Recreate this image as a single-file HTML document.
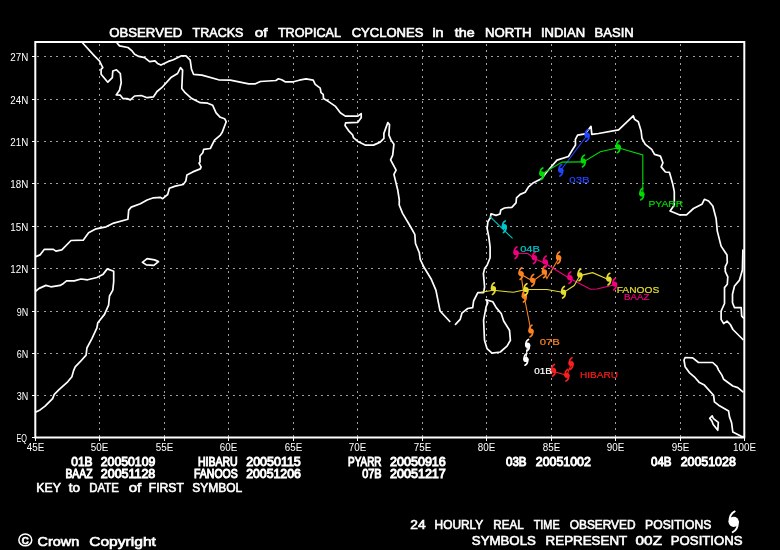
<!DOCTYPE html>
<html lang="en"><head><meta charset="utf-8"><title>Observed tracks of tropical cyclones in the North Indian Basin</title>
<style>
html,body{margin:0;padding:0;background:#000;}
body{width:780px;height:550px;overflow:hidden;}
svg{display:block;}
text{font-family:"Liberation Sans",Arial,sans-serif;fill:#fff;}
.b{stroke:#fff;stroke-width:0.6;}
.bb{stroke:#fff;stroke-width:0.95;}
.coast{fill:none;stroke:#fff;stroke-width:1.7;stroke-linejoin:round;stroke-linecap:round;}
.grid{stroke:#a0a0a0;stroke-width:1;stroke-dasharray:2 4.3;fill:none;}
.trk{fill:none;stroke-width:1.1;}
</style></head><body>
<svg width="780" height="550" viewBox="0 0 780 550">
<rect width="780" height="550" fill="#000"/>
<g class="grid" shape-rendering="crispEdges">
<line x1="99.5" y1="44.0" x2="99.5" y2="436.5"/>
<line x1="164.5" y1="44.0" x2="164.5" y2="436.5"/>
<line x1="228.5" y1="44.0" x2="228.5" y2="436.5"/>
<line x1="293.5" y1="44.0" x2="293.5" y2="436.5"/>
<line x1="357.5" y1="44.0" x2="357.5" y2="436.5"/>
<line x1="422.5" y1="44.0" x2="422.5" y2="436.5"/>
<line x1="486.5" y1="44.0" x2="486.5" y2="436.5"/>
<line x1="551.5" y1="44.0" x2="551.5" y2="436.5"/>
<line x1="615.5" y1="44.0" x2="615.5" y2="436.5"/>
<line x1="680.5" y1="44.0" x2="680.5" y2="436.5"/>
<line x1="37.3" y1="395.5" x2="743.3" y2="395.5"/>
<line x1="37.3" y1="353.5" x2="743.3" y2="353.5"/>
<line x1="37.3" y1="311.5" x2="743.3" y2="311.5"/>
<line x1="37.3" y1="268.5" x2="743.3" y2="268.5"/>
<line x1="37.3" y1="226.5" x2="743.3" y2="226.5"/>
<line x1="37.3" y1="183.5" x2="743.3" y2="183.5"/>
<line x1="37.3" y1="141.5" x2="743.3" y2="141.5"/>
<line x1="37.3" y1="99.5" x2="743.3" y2="99.5"/>
<line x1="37.3" y1="56.5" x2="743.3" y2="56.5"/>
</g>
<g class="coast">
<polyline points="82.7,43.0 94.4,55.9 99.4,60.9 102.8,67.6 101.1,69.3 101.1,74.3 107.8,82.2 112.3,77.6 112.8,71.0 116.5,69.8 120.3,73.5 121.2,82.7 119.5,90.2 116.2,94.9 120.3,95.2 122.9,98.6 127.0,98.6 130.4,99.9 134.6,96.0 141.3,95.5 147.1,97.7 153.5,96.8 157.0,91.5 161.7,87.7 170.9,77.6 177.6,73.5 180.5,67.6 182.6,70.1 181.8,88.5 185.1,92.7 191.8,98.6 200.2,102.7 207.7,103.2 212.7,105.3 216.1,112.8 220.3,117.3 224.6,118.7 226.2,121.7 222.1,132.6 220.4,135.1 214.5,140.1 210.3,148.5 203.7,149.3 202.8,152.7 200.0,156.0 200.0,161.9 199.0,163.2 201.1,166.9 200.3,168.9 192.8,171.9 186.9,174.9 185.8,181.1 183.2,184.5 175.2,186.1 169.4,188.3 167.7,194.5 162.7,198.7 160.2,197.3 153.5,197.8 147.1,200.0 140.4,203.7 131.2,207.1 128.7,210.1 127.9,219.3 113.7,223.1 106.1,226.8 96.1,228.8 88.6,232.7 83.2,240.2 71.0,240.5 61.8,249.9 55.9,251.1 53.4,249.4 44.2,249.4 40.0,254.9 35.9,256.6"/>
<polyline points="117.0,43.0 119.5,45.9 127.9,47.5 132.1,50.9 134.6,54.2 138.8,56.4 144.6,57.6 149.6,61.7 155.0,60.9 157.5,63.4 160.9,65.1 168.4,61.4 173.4,59.7 181.0,55.9 186.0,55.9 190.2,60.1 191.5,69.3 193.5,74.3 201.9,75.1 218.6,79.8 230.3,80.2 248.7,83.8 255.4,83.8 260.4,81.5 275.9,80.5 278.4,78.8 281.7,79.8 285.1,81.8 293.4,81.8 299.3,80.2 306.0,78.8 313.2,80.2 315.2,84.3 320.2,88.2 321.0,92.7 323.2,94.4 323.5,98.6 328.6,101.6 335.2,106.1 340.3,112.8 345.3,116.1 357.8,116.1 361.2,113.6 361.2,117.8 357.8,122.3 345.6,122.9 345.0,125.6 348.5,130.6 352.6,134.8 353.4,137.6 358.4,141.8 365.1,145.1 373.5,145.1 380.2,142.1 383.9,138.4 383.9,133.4 387.8,122.6 389.5,124.6 388.9,135.1 391.1,140.1 393.9,144.3 392.7,155.2 390.6,159.9 396.1,170.2 393.9,174.4 397.8,190.3 399.3,200.0 399.2,205.0 402.6,213.4 410.1,226.0 414.8,234.3 415.5,243.5 419.3,252.7 420.2,259.4 424.3,267.8 431.0,278.7 435.9,290.1 438.4,302.6 440.1,311.0 449.8,321.5"/>
<polyline points="455.5,324.4 460.2,319.4 461.9,313.2 467.7,308.5 472.7,307.6 473.6,301.0 477.8,292.6 483.6,292.6 484.6,287.0 483.4,273.6 484.6,268.6 487.1,265.3 490.1,257.7 490.1,246.9 488.8,236.8 487.1,228.5 487.9,221.8 490.4,217.6 491.0,213.8 496.0,215.4 500.0,214.0 500.8,210.0 504.5,208.0 511.8,207.3 516.0,202.8 516.5,197.8 520.2,194.4 525.2,192.2 528.5,186.9 533.5,182.7 541.9,178.5 546.1,172.7 551.9,166.0 557.0,160.1 568.4,156.5 571.7,151.0 575.5,145.0 575.4,139.3 577.6,135.2 585.1,133.8 589.3,128.5 591.0,126.3 591.8,134.3 598.5,133.5 618.6,129.8 633.3,115.9 634.5,119.3 638.3,121.8 641.1,131.0 642.0,138.5 645.3,144.4 651.7,149.4 654.5,154.4 660.4,156.1 662.9,162.8 661.2,166.9 665.4,172.0 669.5,172.4 672.6,183.4 674.3,191.7 674.3,205.1 670.1,211.0 679.3,214.8 686.5,214.8 693.5,208.5 701.9,204.3 704.4,199.3 708.6,201.0 712.8,206.0 716.1,218.5 717.3,231.1 721.1,246.1 725.0,252.0 727.0,255.0 727.3,262.5 725.3,266.7 725.3,271.7 727.8,276.8 727.3,284.3 724.5,287.6 724.5,303.5 721.1,311.1 721.1,319.4 723.7,323.6 727.0,321.1 730.3,324.5 732.9,329.5 737.9,334.5 742.9,339.5"/>
<polyline points="742.9,250.0 742.4,270.0 739.5,280.1 734.5,286.0 732.5,294.3 732.5,302.7 734.5,307.7 741.2,307.7 741.7,316.1 743.4,317.8"/>
<polyline points="486.1,299.8 492.8,301.8 496.2,307.6 501.2,313.5 503.7,321.0 509.5,330.2 510.4,340.3 507.0,346.1 500.3,352.0 492.0,353.2 487.0,348.6 484.5,340.3 483.6,320.2 486.1,306.8 487.8,302.6 486.1,299.8"/>
<polyline points="742.9,391.8 737.8,387.6 732.8,386.0 723.6,379.3 721.9,375.1 718.6,370.1 716.9,366.4 712.7,362.5 698.5,362.5 692.7,357.9 685.1,357.5 684.0,360.0 685.1,366.7 689.3,372.6 694.3,376.8 699.4,382.6 704.4,385.1 713.6,395.2 714.4,401.9 718.6,405.2 728.6,411.1 729.5,416.9 731.6,422.8 732.8,432.0 741.2,436.2 744.0,437.0"/>
<polyline points="709.7,418.3 712.2,415.8 713.2,418.3 718.3,422.3 717.8,430.3 713.2,424.5 711.9,421.1 709.7,418.3"/>
<polyline points="142.4,262.3 147.1,258.6 154.6,259.9 158.5,261.6 153.8,265.3 146.3,264.9 142.4,262.3"/>
<polyline points="35.9,291.0 39.2,288.4 45.9,285.4 50.9,286.8 60.1,285.4 63.5,283.4 66.5,280.9 74.3,280.9 81.0,279.0 87.7,279.8 96.9,277.5 102.8,274.6 107.3,268.9 113.7,271.3 113.7,281.7 112.8,290.1 109.5,296.0 108.6,305.2 104.5,314.4 97.8,322.7 96.9,327.8 91.9,338.6 86.9,348.0 86.1,355.1 80.2,361.7 75.2,366.8 73.5,370.9 71.9,376.8 67.7,381.8 59.3,389.4 54.3,394.4 52.6,398.6 45.1,406.1 40.1,409.9 35.9,411.9"/>
</g>
<rect x="35.3" y="42.0" width="709.0" height="395.5" fill="none" stroke="#fff" stroke-width="2"/>
<g stroke="#fff" stroke-width="1" shape-rendering="crispEdges">
<line x1="32" y1="437.5" x2="35.3" y2="437.5"/>
<line x1="32" y1="395.5" x2="35.3" y2="395.5"/>
<line x1="32" y1="353.5" x2="35.3" y2="353.5"/>
<line x1="32" y1="311.5" x2="35.3" y2="311.5"/>
<line x1="32" y1="268.5" x2="35.3" y2="268.5"/>
<line x1="32" y1="226.5" x2="35.3" y2="226.5"/>
<line x1="32" y1="183.5" x2="35.3" y2="183.5"/>
<line x1="32" y1="141.5" x2="35.3" y2="141.5"/>
<line x1="32" y1="99.5" x2="35.3" y2="99.5"/>
<line x1="32" y1="56.5" x2="35.3" y2="56.5"/>
<line x1="35.5" y1="437.5" x2="35.5" y2="441.0"/>
<line x1="99.5" y1="437.5" x2="99.5" y2="441.0"/>
<line x1="164.5" y1="437.5" x2="164.5" y2="441.0"/>
<line x1="228.5" y1="437.5" x2="228.5" y2="441.0"/>
<line x1="293.5" y1="437.5" x2="293.5" y2="441.0"/>
<line x1="357.5" y1="437.5" x2="357.5" y2="441.0"/>
<line x1="422.5" y1="437.5" x2="422.5" y2="441.0"/>
<line x1="486.5" y1="437.5" x2="486.5" y2="441.0"/>
<line x1="551.5" y1="437.5" x2="551.5" y2="441.0"/>
<line x1="615.5" y1="437.5" x2="615.5" y2="441.0"/>
<line x1="680.5" y1="437.5" x2="680.5" y2="441.0"/>
<line x1="744.5" y1="437.5" x2="744.5" y2="441.0"/>
</g>
<polyline class="trk" stroke="#2244ff" points="587.0,135.5 561.0,170.0"/>
<circle cx="587.20" cy="135.20" r="2.60" fill="#2244ff"/><path d="M585.35,135.20 C585.35,132.40 585.60,130.60 588.10,129.40 M589.05,135.20 C589.05,138.00 588.80,139.80 586.30,141.00" fill="none" stroke="#2244ff" stroke-width="1.7" stroke-linecap="round"/>
<circle cx="560.80" cy="170.30" r="2.60" fill="#2244ff"/><path d="M558.95,170.30 C558.95,167.50 559.20,165.70 561.70,164.50 M562.65,170.30 C562.65,173.10 562.40,174.90 559.90,176.10" fill="none" stroke="#2244ff" stroke-width="1.7" stroke-linecap="round"/>
<polyline class="trk" stroke="#00dc00" points="541.9,174.0 562.0,162.1 583.4,161.9 600.3,151.7 618.2,147.7 642.8,154.9 642.8,192.0"/>
<circle cx="541.90" cy="173.80" r="2.60" fill="#00dc00"/><path d="M540.05,173.80 C540.05,171.00 540.30,169.20 542.80,168.00 M543.75,173.80 C543.75,176.60 543.50,178.40 541.00,179.60" fill="none" stroke="#00dc00" stroke-width="1.7" stroke-linecap="round"/>
<circle cx="583.40" cy="161.00" r="2.60" fill="#00dc00"/><path d="M581.55,161.00 C581.55,158.20 581.80,156.40 584.30,155.20 M585.25,161.00 C585.25,163.80 585.00,165.60 582.50,166.80" fill="none" stroke="#00dc00" stroke-width="1.7" stroke-linecap="round"/>
<circle cx="618.20" cy="146.90" r="2.60" fill="#00dc00"/><path d="M616.35,146.90 C616.35,144.10 616.60,142.30 619.10,141.10 M620.05,146.90 C620.05,149.70 619.80,151.50 617.30,152.70" fill="none" stroke="#00dc00" stroke-width="1.7" stroke-linecap="round"/>
<circle cx="641.80" cy="194.00" r="2.60" fill="#00dc00"/><path d="M639.95,194.00 C639.95,191.20 640.20,189.40 642.70,188.20 M643.65,194.00 C643.65,196.80 643.40,198.60 640.90,199.80" fill="none" stroke="#00dc00" stroke-width="1.7" stroke-linecap="round"/>
<polyline class="trk" stroke="#00c8c8" points="490.0,216.7 512.6,238.4"/>
<circle cx="504.30" cy="226.70" r="2.60" fill="#00c8c8"/><path d="M502.45,226.70 C502.45,223.90 502.70,222.10 505.20,220.90 M506.15,226.70 C506.15,229.50 505.90,231.30 503.40,232.50" fill="none" stroke="#00c8c8" stroke-width="1.7" stroke-linecap="round"/>
<polyline class="trk" stroke="#fa8220" points="558.6,258.5 546.9,278.6 544.4,272.7 532.7,281.1 521.0,274.4 524.3,297.0 531.0,331.0"/>
<circle cx="558.60" cy="257.70" r="2.60" fill="#fa8220"/><path d="M556.75,257.70 C556.75,254.90 557.00,253.10 559.50,251.90 M560.45,257.70 C560.45,260.50 560.20,262.30 557.70,263.50" fill="none" stroke="#fa8220" stroke-width="1.7" stroke-linecap="round"/>
<circle cx="544.40" cy="271.90" r="2.60" fill="#fa8220"/><path d="M542.55,271.90 C542.55,269.10 542.80,267.30 545.30,266.10 M546.25,271.90 C546.25,274.70 546.00,276.50 543.50,277.70" fill="none" stroke="#fa8220" stroke-width="1.7" stroke-linecap="round"/>
<circle cx="532.70" cy="280.30" r="2.60" fill="#fa8220"/><path d="M530.85,280.30 C530.85,277.50 531.10,275.70 533.60,274.50 M534.55,280.30 C534.55,283.10 534.30,284.90 531.80,286.10" fill="none" stroke="#fa8220" stroke-width="1.7" stroke-linecap="round"/>
<circle cx="521.00" cy="273.60" r="2.60" fill="#fa8220"/><path d="M519.15,273.60 C519.15,270.80 519.40,269.00 521.90,267.80 M522.85,273.60 C522.85,276.40 522.60,278.20 520.10,279.40" fill="none" stroke="#fa8220" stroke-width="1.7" stroke-linecap="round"/>
<circle cx="524.30" cy="296.20" r="2.60" fill="#fa8220"/><path d="M522.45,296.20 C522.45,293.40 522.70,291.60 525.20,290.40 M526.15,296.20 C526.15,299.00 525.90,300.80 523.40,302.00" fill="none" stroke="#fa8220" stroke-width="1.7" stroke-linecap="round"/>
<circle cx="531.00" cy="331.00" r="2.60" fill="#fa8220"/><path d="M529.15,331.00 C529.15,328.20 529.40,326.40 531.90,325.20 M532.85,331.00 C532.85,333.80 532.60,335.60 530.10,336.80" fill="none" stroke="#fa8220" stroke-width="1.7" stroke-linecap="round"/>
<polyline class="trk" stroke="#f0007e" points="516.0,253.2 527.7,253.5 534.4,258.5 545.3,263.5 569.9,278.4 590.5,289.3 596.9,289.0 614.6,284.8"/>
<circle cx="516.00" cy="252.70" r="2.60" fill="#f0007e"/><path d="M514.15,252.70 C514.15,249.90 514.40,248.10 516.90,246.90 M517.85,252.70 C517.85,255.50 517.60,257.30 515.10,258.50" fill="none" stroke="#f0007e" stroke-width="1.7" stroke-linecap="round"/>
<circle cx="534.40" cy="257.70" r="2.60" fill="#f0007e"/><path d="M532.55,257.70 C532.55,254.90 532.80,253.10 535.30,251.90 M536.25,257.70 C536.25,260.50 536.00,262.30 533.50,263.50" fill="none" stroke="#f0007e" stroke-width="1.7" stroke-linecap="round"/>
<circle cx="545.30" cy="261.90" r="2.60" fill="#f0007e"/><path d="M543.45,261.90 C543.45,259.10 543.70,257.30 546.20,256.10 M547.15,261.90 C547.15,264.70 546.90,266.50 544.40,267.70" fill="none" stroke="#f0007e" stroke-width="1.7" stroke-linecap="round"/>
<circle cx="569.90" cy="277.70" r="2.60" fill="#f0007e"/><path d="M568.05,277.70 C568.05,274.90 568.30,273.10 570.80,271.90 M571.75,277.70 C571.75,280.50 571.50,282.30 569.00,283.50" fill="none" stroke="#f0007e" stroke-width="1.7" stroke-linecap="round"/>
<circle cx="614.60" cy="284.10" r="2.60" fill="#f0007e"/><path d="M612.75,284.10 C612.75,281.30 613.00,279.50 615.50,278.30 M616.45,284.10 C616.45,286.90 616.20,288.70 613.70,289.90" fill="none" stroke="#f0007e" stroke-width="1.7" stroke-linecap="round"/>
<polyline class="trk" stroke="#e6dc32" points="608.9,279.8 592.6,272.7 579.9,275.6 574.2,285.5 563.7,292.5 546.9,289.5 526.0,289.5 513.5,292.3 493.4,290.3 481.0,292.3"/>
<circle cx="608.90" cy="279.10" r="2.60" fill="#e6dc32"/><path d="M607.05,279.10 C607.05,276.30 607.30,274.50 609.80,273.30 M610.75,279.10 C610.75,281.90 610.50,283.70 608.00,284.90" fill="none" stroke="#e6dc32" stroke-width="1.7" stroke-linecap="round"/>
<circle cx="579.90" cy="274.90" r="2.60" fill="#e6dc32"/><path d="M578.05,274.90 C578.05,272.10 578.30,270.30 580.80,269.10 M581.75,274.90 C581.75,277.70 581.50,279.50 579.00,280.70" fill="none" stroke="#e6dc32" stroke-width="1.7" stroke-linecap="round"/>
<circle cx="563.50" cy="292.20" r="2.60" fill="#e6dc32"/><path d="M561.65,292.20 C561.65,289.40 561.90,287.60 564.40,286.40 M565.35,292.20 C565.35,295.00 565.10,296.80 562.60,298.00" fill="none" stroke="#e6dc32" stroke-width="1.7" stroke-linecap="round"/>
<circle cx="526.00" cy="289.50" r="2.60" fill="#e6dc32"/><path d="M524.15,289.50 C524.15,286.70 524.40,284.90 526.90,283.70 M527.85,289.50 C527.85,292.30 527.60,294.10 525.10,295.30" fill="none" stroke="#e6dc32" stroke-width="1.7" stroke-linecap="round"/>
<circle cx="493.40" cy="288.60" r="2.60" fill="#e6dc32"/><path d="M491.55,288.60 C491.55,285.80 491.80,284.00 494.30,282.80 M495.25,288.60 C495.25,291.40 495.00,293.20 492.50,294.40" fill="none" stroke="#e6dc32" stroke-width="1.7" stroke-linecap="round"/>
<polyline class="trk" stroke="#ffffff" points="527.6,345.2 525.9,359.4"/>
<circle cx="527.60" cy="345.20" r="2.60" fill="#ffffff"/><path d="M525.75,345.20 C525.75,342.40 526.00,340.60 528.50,339.40 M529.45,345.20 C529.45,348.00 529.20,349.80 526.70,351.00" fill="none" stroke="#ffffff" stroke-width="1.7" stroke-linecap="round"/>
<circle cx="525.90" cy="359.40" r="2.60" fill="#ffffff"/><path d="M524.05,359.40 C524.05,356.60 524.30,354.80 526.80,353.60 M527.75,359.40 C527.75,362.20 527.50,364.00 525.00,365.20" fill="none" stroke="#ffffff" stroke-width="1.7" stroke-linecap="round"/>
<polyline class="trk" stroke="#fa1e1e" points="553.5,371.5 566.9,375.3 571.1,364.5"/>
<circle cx="553.50" cy="370.30" r="2.60" fill="#fa1e1e"/><path d="M551.65,370.30 C551.65,367.50 551.90,365.70 554.40,364.50 M555.35,370.30 C555.35,373.10 555.10,374.90 552.60,376.10" fill="none" stroke="#fa1e1e" stroke-width="1.7" stroke-linecap="round"/>
<circle cx="566.90" cy="375.30" r="2.60" fill="#fa1e1e"/><path d="M565.05,375.30 C565.05,372.50 565.30,370.70 567.80,369.50 M568.75,375.30 C568.75,378.10 568.50,379.90 566.00,381.10" fill="none" stroke="#fa1e1e" stroke-width="1.7" stroke-linecap="round"/>
<circle cx="571.10" cy="363.60" r="2.60" fill="#fa1e1e"/><path d="M569.25,363.60 C569.25,360.80 569.50,359.00 572.00,357.80 M572.95,363.60 C572.95,366.40 572.70,368.20 570.20,369.40" fill="none" stroke="#fa1e1e" stroke-width="1.7" stroke-linecap="round"/>
<text x="569.3" y="183.0" font-size="9.2" textLength="20.4" lengthAdjust="spacingAndGlyphs" style="fill:#2244ff;stroke:#2244ff;stroke-width:0.2">03B</text>
<text x="648.4" y="206.6" font-size="9.2" textLength="34.8" lengthAdjust="spacingAndGlyphs" style="fill:#00dc00;stroke:#00dc00;stroke-width:0.2">PYARR</text>
<text x="520.2" y="251.6" font-size="9.2" textLength="19.7" lengthAdjust="spacingAndGlyphs" style="fill:#00c8c8;stroke:#00c8c8;stroke-width:0.2">04B</text>
<text x="616.7" y="293.0" font-size="9.2" textLength="42.6" lengthAdjust="spacingAndGlyphs" style="fill:#e6dc32;stroke:#e6dc32;stroke-width:0.2">FANOOS</text>
<text x="624.1" y="299.6" font-size="9.2" textLength="25.3" lengthAdjust="spacingAndGlyphs" style="fill:#f0007e;stroke:#f0007e;stroke-width:0.2">BAAZ</text>
<text x="539.8" y="345.2" font-size="9.2" textLength="20.1" lengthAdjust="spacingAndGlyphs" style="fill:#fa8220;stroke:#fa8220;stroke-width:0.2">07B</text>
<text x="534.3" y="373.6" font-size="9.2" textLength="17.6" lengthAdjust="spacingAndGlyphs" style="fill:#ffffff;stroke:#ffffff;stroke-width:0.2">01B</text>
<text x="580.0" y="377.8" font-size="9.2" textLength="38.0" lengthAdjust="spacingAndGlyphs" style="fill:#fa1e1e;stroke:#fa1e1e;stroke-width:0.2">HIBARU</text>
<text x="16.5" y="441.7" font-size="11" textLength="10.5" lengthAdjust="spacingAndGlyphs">EQ</text>
<text x="16.8" y="399.7" font-size="11" textLength="11.5" lengthAdjust="spacingAndGlyphs">3N</text>
<text x="16.8" y="357.7" font-size="11" textLength="11.5" lengthAdjust="spacingAndGlyphs">6N</text>
<text x="16.8" y="315.7" font-size="11" textLength="11.5" lengthAdjust="spacingAndGlyphs">9N</text>
<text x="10.3" y="272.7" font-size="11" textLength="18.0" lengthAdjust="spacingAndGlyphs">12N</text>
<text x="10.3" y="230.7" font-size="11" textLength="18.0" lengthAdjust="spacingAndGlyphs">15N</text>
<text x="10.3" y="187.7" font-size="11" textLength="18.0" lengthAdjust="spacingAndGlyphs">18N</text>
<text x="10.3" y="145.7" font-size="11" textLength="18.0" lengthAdjust="spacingAndGlyphs">21N</text>
<text x="10.3" y="103.7" font-size="11" textLength="18.0" lengthAdjust="spacingAndGlyphs">24N</text>
<text x="10.3" y="60.7" font-size="11" textLength="18.0" lengthAdjust="spacingAndGlyphs">27N</text>
<text x="26.8" y="451.2" font-size="10" textLength="17.5" lengthAdjust="spacingAndGlyphs">45E</text>
<text x="90.8" y="451.2" font-size="10" textLength="17.5" lengthAdjust="spacingAndGlyphs">50E</text>
<text x="155.8" y="451.2" font-size="10" textLength="17.5" lengthAdjust="spacingAndGlyphs">55E</text>
<text x="219.8" y="451.2" font-size="10" textLength="17.5" lengthAdjust="spacingAndGlyphs">60E</text>
<text x="284.8" y="451.2" font-size="10" textLength="17.5" lengthAdjust="spacingAndGlyphs">65E</text>
<text x="348.8" y="451.2" font-size="10" textLength="17.5" lengthAdjust="spacingAndGlyphs">70E</text>
<text x="413.8" y="451.2" font-size="10" textLength="17.5" lengthAdjust="spacingAndGlyphs">75E</text>
<text x="477.8" y="451.2" font-size="10" textLength="17.5" lengthAdjust="spacingAndGlyphs">80E</text>
<text x="542.8" y="451.2" font-size="10" textLength="17.5" lengthAdjust="spacingAndGlyphs">85E</text>
<text x="606.8" y="451.2" font-size="10" textLength="17.5" lengthAdjust="spacingAndGlyphs">90E</text>
<text x="671.8" y="451.2" font-size="10" textLength="17.5" lengthAdjust="spacingAndGlyphs">95E</text>
<text x="733.0" y="451.2" font-size="10" textLength="23.0" lengthAdjust="spacingAndGlyphs">100E</text>
<text x="109.3" y="36.9" font-size="12.4" textLength="72.9" lengthAdjust="spacingAndGlyphs" class="b">OBSERVED</text>
<text x="192.5" y="36.9" font-size="12.4" textLength="51.0" lengthAdjust="spacingAndGlyphs" class="b">TRACKS</text>
<text x="254.7" y="36.9" font-size="12.4" textLength="12.8" lengthAdjust="spacingAndGlyphs" class="b">of</text>
<text x="277.9" y="36.9" font-size="12.4" textLength="63.0" lengthAdjust="spacingAndGlyphs" class="b">TROPICAL</text>
<text x="351.7" y="36.9" font-size="12.4" textLength="71.7" lengthAdjust="spacingAndGlyphs" class="b">CYCLONES</text>
<text x="432.4" y="36.9" font-size="12.4" textLength="11.2" lengthAdjust="spacingAndGlyphs" class="b">in</text>
<text x="454.8" y="36.9" font-size="12.4" textLength="19.8" lengthAdjust="spacingAndGlyphs" class="b">the</text>
<text x="484.9" y="36.9" font-size="12.4" textLength="46.6" lengthAdjust="spacingAndGlyphs" class="b">NORTH</text>
<text x="540.9" y="36.9" font-size="12.4" textLength="44.2" lengthAdjust="spacingAndGlyphs" class="b">INDIAN</text>
<text x="594.6" y="36.9" font-size="12.4" textLength="39.2" lengthAdjust="spacingAndGlyphs" class="b">BASIN</text>
<text x="71.3" y="466.2" font-size="12" textLength="21.2" lengthAdjust="spacingAndGlyphs" class="bb">01B</text>
<text x="100.8" y="466.2" font-size="12" textLength="54.5" lengthAdjust="spacingAndGlyphs" class="bb">20050109</text>
<text x="65.4" y="478.2" font-size="12" textLength="27.1" lengthAdjust="spacingAndGlyphs" class="bb">BAAZ</text>
<text x="100.8" y="478.2" font-size="12" textLength="54.5" lengthAdjust="spacingAndGlyphs" class="bb">20051128</text>
<text x="197.9" y="466.2" font-size="12" textLength="39.8" lengthAdjust="spacingAndGlyphs" class="bb">HIBARU</text>
<text x="246.2" y="466.2" font-size="12" textLength="54.6" lengthAdjust="spacingAndGlyphs" class="bb">20050115</text>
<text x="194.0" y="478.2" font-size="12" textLength="43.7" lengthAdjust="spacingAndGlyphs" class="bb">FANOOS</text>
<text x="246.2" y="478.2" font-size="12" textLength="54.6" lengthAdjust="spacingAndGlyphs" class="bb">20051206</text>
<text x="348.0" y="466.2" font-size="12" textLength="33.5" lengthAdjust="spacingAndGlyphs" class="bb">PYARR</text>
<text x="390.0" y="466.2" font-size="12" textLength="55.8" lengthAdjust="spacingAndGlyphs" class="bb">20050916</text>
<text x="362.2" y="478.2" font-size="12" textLength="19.3" lengthAdjust="spacingAndGlyphs" class="bb">07B</text>
<text x="390.0" y="478.2" font-size="12" textLength="55.8" lengthAdjust="spacingAndGlyphs" class="bb">20051217</text>
<text x="506.0" y="466.2" font-size="12" textLength="20.5" lengthAdjust="spacingAndGlyphs" class="bb">03B</text>
<text x="535.8" y="466.2" font-size="12" textLength="55.0" lengthAdjust="spacingAndGlyphs" class="bb">20051002</text>
<text x="651.0" y="466.2" font-size="12" textLength="20.5" lengthAdjust="spacingAndGlyphs" class="bb">04B</text>
<text x="680.7" y="466.2" font-size="12" textLength="55.1" lengthAdjust="spacingAndGlyphs" class="bb">20051028</text>
<text x="36.3" y="491.9" font-size="12.4" textLength="24.5" lengthAdjust="spacingAndGlyphs" class="b">KEY</text>
<text x="68.7" y="491.9" font-size="12.4" textLength="11.3" lengthAdjust="spacingAndGlyphs" class="b">to</text>
<text x="89.2" y="491.9" font-size="12.4" textLength="29.6" lengthAdjust="spacingAndGlyphs" class="b">DATE</text>
<text x="128.7" y="491.9" font-size="12.4" textLength="12.6" lengthAdjust="spacingAndGlyphs" class="b">of</text>
<text x="148.7" y="491.9" font-size="12.4" textLength="35.2" lengthAdjust="spacingAndGlyphs" class="b">FIRST</text>
<text x="192.2" y="491.9" font-size="12.4" textLength="50.1" lengthAdjust="spacingAndGlyphs" class="b">SYMBOL</text>
<text x="410.3" y="528.7" font-size="12.2" textLength="15.3" lengthAdjust="spacingAndGlyphs" class="b">24</text>
<text x="434.6" y="528.7" font-size="12.2" textLength="48.7" lengthAdjust="spacingAndGlyphs" class="b">HOURLY</text>
<text x="493.3" y="528.7" font-size="12.2" textLength="30.4" lengthAdjust="spacingAndGlyphs" class="b">REAL</text>
<text x="533.7" y="528.7" font-size="12.2" textLength="26.0" lengthAdjust="spacingAndGlyphs" class="b">TIME</text>
<text x="569.7" y="528.7" font-size="12.2" textLength="65.9" lengthAdjust="spacingAndGlyphs" class="b">OBSERVED</text>
<text x="645.1" y="528.7" font-size="12.2" textLength="66.2" lengthAdjust="spacingAndGlyphs" class="b">POSITIONS</text>
<text x="471.8" y="545.4" font-size="12.4" textLength="64.1" lengthAdjust="spacingAndGlyphs" class="b">SYMBOLS</text>
<text x="545.6" y="545.4" font-size="12.4" textLength="81.6" lengthAdjust="spacingAndGlyphs" class="b">REPRESENT</text>
<text x="635.6" y="545.4" font-size="12.4" textLength="26.4" lengthAdjust="spacingAndGlyphs" class="b">00Z</text>
<text x="670.8" y="545.4" font-size="12.4" textLength="71.8" lengthAdjust="spacingAndGlyphs" class="b">POSITIONS</text>
<circle cx="733.70" cy="521.80" r="5.10" fill="#fff"/><path d="M729.45,521.80 C729.45,516.80 730.50,513.40 734.70,511.40 M737.95,521.80 C737.95,526.80 736.90,530.20 732.70,532.20" fill="none" stroke="#fff" stroke-width="1.9" stroke-linecap="round"/>
<ellipse cx="25.3" cy="539.9" rx="6.45" ry="5.9" fill="none" stroke="#fff" stroke-width="1.5"/>
<text x="21.6" y="543.6" font-size="13" textLength="7.3" lengthAdjust="spacingAndGlyphs" class="b">c</text>
<text x="37.5" y="545.6" font-size="12.4" textLength="41.7" lengthAdjust="spacingAndGlyphs" class="b">Crown</text>
<text x="89.2" y="545.6" font-size="12.4" textLength="66.7" lengthAdjust="spacingAndGlyphs" class="b">Copyright</text>
</svg></body></html>
